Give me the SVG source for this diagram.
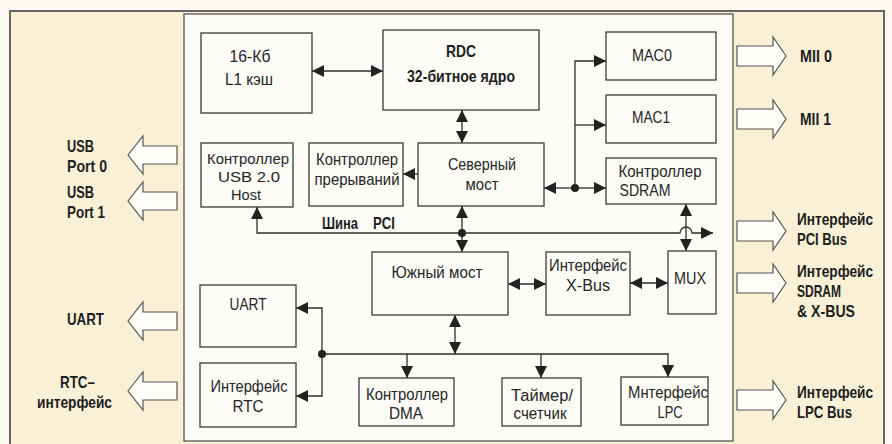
<svg xmlns="http://www.w3.org/2000/svg" width="892" height="444" viewBox="0 0 892 444">
<defs>
<style>
.box{fill:#fdfcf7;stroke:#3a3a3a;stroke-width:1.3}
.ln{fill:none;stroke:#2e2e2e;stroke-width:1.3}
.t{font-family:"Liberation Sans",Arial,sans-serif;font-size:17px;fill:#262626;text-anchor:middle}
.s{font-size:15.5px}
.b{font-family:"Liberation Sans",Arial,sans-serif;font-size:16.5px;font-weight:bold;fill:#1e1e1e}
.bc{text-anchor:middle}
.blk{fill:#fefdf8;stroke:#555;stroke-width:1.2}
.dot{fill:#222}
</style>
<marker id="ah" viewBox="0 0 12 12" refX="12" refY="6" markerWidth="12" markerHeight="12" markerUnits="userSpaceOnUse" orient="auto-start-reverse">
<path d="M0,0 L12,6 L0,12 z" fill="#222"/>
</marker>
</defs>
<rect x="0" y="0" width="892" height="444" fill="#fbf8ef"/>
<rect x="10" y="11" width="874" height="440" fill="#f9f0d6" stroke="#666" stroke-width="2"/>
<rect x="184" y="14" width="549" height="427" fill="#fdfcf7" stroke="#555" stroke-width="1.3"/>

<g id="ext-arrows">
<polygon class="blk" points="128,155 143,136 143,146 177,146 177,164 143,164 143,174"/>
<polygon class="blk" points="128,201 143,182 143,192 177,192 177,210 143,210 143,220"/>
<polygon class="blk" points="128,321 143,302 143,312 177,312 177,330 143,330 143,340"/>
<polygon class="blk" points="128,391 143,372 143,382 177,382 177,400 143,400 143,410"/>
<polygon class="blk" points="786,56 773,37 773,46 737,46 737,66 773,66 773,75"/>
<polygon class="blk" points="786,119 773,100 773,109 737,109 737,129 773,129 773,138"/>
<polygon class="blk" points="786,231 773,212 773,221 737,221 737,241 773,241 773,250"/>
<polygon class="blk" points="786,283 773,264 773,273 737,273 737,293 773,293 773,302"/>
<polygon class="blk" points="786,400 773,381 773,390 737,390 737,410 773,410 773,419"/>
</g>

<g id="ext-labels">
<text class="b" x="67" y="152" textLength="27" lengthAdjust="spacingAndGlyphs">USB</text>
<text class="b" x="67" y="172" textLength="40" lengthAdjust="spacingAndGlyphs">Port 0</text>
<text class="b" x="67" y="198" textLength="27" lengthAdjust="spacingAndGlyphs">USB</text>
<text class="b" x="67" y="218" textLength="38" lengthAdjust="spacingAndGlyphs">Port 1</text>
<text class="b" x="67" y="325" textLength="37" lengthAdjust="spacingAndGlyphs">UART</text>
<text class="b" x="60" y="388" textLength="35" lengthAdjust="spacingAndGlyphs">RTC–</text>
<text class="b" x="37" y="408" textLength="75" lengthAdjust="spacingAndGlyphs">интерфейс</text>
<text class="b" x="800" y="62" textLength="32" lengthAdjust="spacingAndGlyphs">MII 0</text>
<text class="b" x="800" y="125" textLength="31" lengthAdjust="spacingAndGlyphs">MII 1</text>
<text class="b" x="797" y="225" textLength="76" lengthAdjust="spacingAndGlyphs">Интерфейс</text>
<text class="b" x="797" y="245" textLength="50" lengthAdjust="spacingAndGlyphs">PCI Bus</text>
<text class="b" x="797" y="277" textLength="76" lengthAdjust="spacingAndGlyphs">Интерфейс</text>
<text class="b" x="797" y="297" textLength="44" lengthAdjust="spacingAndGlyphs">SDRAM</text>
<text class="b" x="797" y="317" textLength="58" lengthAdjust="spacingAndGlyphs">&amp; X-BUS</text>
<text class="b" x="797" y="398" textLength="76" lengthAdjust="spacingAndGlyphs">Интерфейс</text>
<text class="b" x="797" y="418" textLength="55" lengthAdjust="spacingAndGlyphs">LPC Bus</text>
<text class="b" x="322" y="229" textLength="36" lengthAdjust="spacingAndGlyphs">Шина</text>
<text class="b" x="373" y="229" textLength="22" lengthAdjust="spacingAndGlyphs">PCI</text>
</g>

<g id="connectors">
<line class="ln" x1="312" y1="71" x2="383" y2="71" marker-start="url(#ah)" marker-end="url(#ah)"/>
<line class="ln" x1="462" y1="110" x2="462" y2="143" marker-start="url(#ah)" marker-end="url(#ah)"/>
<line class="ln" x1="418" y1="174" x2="403" y2="174" marker-end="url(#ah)"/>
<line class="ln" x1="575" y1="188" x2="544" y2="188" marker-end="url(#ah)"/>
<line class="ln" x1="575" y1="188" x2="606" y2="188" marker-end="url(#ah)"/>
<path class="ln" d="M575,188 V61 H606" marker-end="url(#ah)"/>
<path class="ln" d="M575,125 H606" marker-end="url(#ah)"/>
<circle class="dot" cx="575" cy="188" r="4"/>
<line class="ln" x1="462" y1="206" x2="462" y2="252" marker-start="url(#ah)" marker-end="url(#ah)"/>
<path class="ln" d="M257,207 V233 H680 A6,6 0 0 1 692,233 H713" marker-start="url(#ah)" marker-end="url(#ah)"/>
<circle class="dot" cx="462" cy="233" r="4"/>
<line class="ln" x1="686" y1="204" x2="686" y2="251" marker-start="url(#ah)" marker-end="url(#ah)"/>
<line class="ln" x1="508" y1="284" x2="546" y2="284" marker-start="url(#ah)" marker-end="url(#ah)"/>
<line class="ln" x1="630" y1="283" x2="668" y2="283" marker-start="url(#ah)" marker-end="url(#ah)"/>
<line class="ln" x1="455" y1="315" x2="455" y2="354" marker-start="url(#ah)" marker-end="url(#ah)"/>
<path class="ln" d="M322,354 H668 V377" marker-end="url(#ah)"/>
<path class="ln" d="M407,354 V378" marker-end="url(#ah)"/>
<path class="ln" d="M541,354 V378" marker-end="url(#ah)"/>
<path class="ln" d="M322,354 V308 H296" marker-end="url(#ah)"/>
<path class="ln" d="M322,354 V396 H296" marker-end="url(#ah)"/>
<circle class="dot" cx="322" cy="354" r="4"/>
</g>

<g id="l1cache"><rect class="box" x="201" y="33" width="111" height="80"/>
<text class="t" x="250" y="62" textLength="41" lengthAdjust="spacingAndGlyphs">16-Кб</text><text class="t" x="249" y="85" textLength="48" lengthAdjust="spacingAndGlyphs">L1 кэш</text></g>
<g id="rdc"><rect class="box" x="383" y="30" width="156" height="80"/>
<text class="b bc" x="461" y="57" textLength="30" lengthAdjust="spacingAndGlyphs">RDC</text><text class="b bc" x="461" y="82" textLength="108" lengthAdjust="spacingAndGlyphs">32-битное ядро</text></g>
<g id="mac0"><rect class="box" x="606" y="32" width="110" height="48"/>
<text class="t" x="652" y="61" textLength="40" lengthAdjust="spacingAndGlyphs">MAC0</text></g>
<g id="mac1"><rect class="box" x="606" y="95" width="110" height="48"/>
<text class="t" x="651" y="123" textLength="38" lengthAdjust="spacingAndGlyphs">MAC1</text></g>
<g id="sdramctl"><rect class="box" x="606" y="158" width="110" height="46"/>
<text class="t" x="660" y="177" textLength="83" lengthAdjust="spacingAndGlyphs">Контроллер</text><text class="t" x="645" y="196" textLength="51" lengthAdjust="spacingAndGlyphs">SDRAM</text></g>
<g id="north"><rect class="box" x="418" y="143" width="126" height="63"/>
<text class="t" x="482" y="170" textLength="68" lengthAdjust="spacingAndGlyphs">Северный</text><text class="t" x="482" y="190" textLength="33" lengthAdjust="spacingAndGlyphs">мост</text></g>
<g id="intctl"><rect class="box" x="309" y="143" width="94" height="63"/>
<text class="t" x="357" y="165" textLength="82" lengthAdjust="spacingAndGlyphs">Контроллер</text><text class="t" x="357" y="185" textLength="85" lengthAdjust="spacingAndGlyphs">прерываний</text></g>
<g id="usbhost"><rect class="box" x="201" y="143" width="92" height="64"/>
<text class="t s" x="248" y="164" textLength="82" lengthAdjust="spacingAndGlyphs">Контроллер</text><text class="t s" x="249" y="182" textLength="62" lengthAdjust="spacingAndGlyphs">USB 2.0</text><text class="t s" x="246" y="200" textLength="30" lengthAdjust="spacingAndGlyphs">Host</text></g>
<g id="south"><rect class="box" x="372" y="252" width="136" height="63"/>
<text class="t" x="437" y="278" textLength="91" lengthAdjust="spacingAndGlyphs">Южный мост</text></g>
<g id="xbus"><rect class="box" x="546" y="252" width="84" height="63"/>
<text class="t" x="588" y="271" textLength="78" lengthAdjust="spacingAndGlyphs">Интерфейс</text><text class="t" x="588" y="291" textLength="44" lengthAdjust="spacingAndGlyphs">X-Bus</text></g>
<g id="mux"><rect class="box" x="668" y="251" width="48" height="63"/>
<text class="t" x="690" y="284" textLength="32" lengthAdjust="spacingAndGlyphs">MUX</text></g>
<g id="uart"><rect class="box" x="200" y="285" width="96" height="62"/>
<text class="t" x="248" y="310" textLength="37" lengthAdjust="spacingAndGlyphs">UART</text></g>
<g id="rtc"><rect class="box" x="200" y="363" width="96" height="64"/>
<text class="t" x="249" y="392" textLength="77" lengthAdjust="spacingAndGlyphs">Интерфейс</text><text class="t" x="248" y="412" textLength="31" lengthAdjust="spacingAndGlyphs">RTC</text></g>
<g id="dma"><rect class="box" x="359" y="378" width="95" height="48"/>
<text class="t" x="407" y="400" textLength="82" lengthAdjust="spacingAndGlyphs">Контроллер</text><text class="t" x="406" y="419" textLength="34" lengthAdjust="spacingAndGlyphs">DMA</text></g>
<g id="timer"><rect class="box" x="502" y="378" width="79" height="48"/>
<text class="t" x="542" y="401" textLength="62" lengthAdjust="spacingAndGlyphs">Таймер/</text><text class="t" x="540" y="419" textLength="53" lengthAdjust="spacingAndGlyphs">счетчик</text></g>
<g id="lpc"><rect class="box" x="621" y="377" width="87" height="48"/>
<text class="t" x="668" y="398" textLength="80" lengthAdjust="spacingAndGlyphs">Мнтерфейс</text><text class="t" x="670" y="418" textLength="25" lengthAdjust="spacingAndGlyphs">LPC</text></g>
</svg>
